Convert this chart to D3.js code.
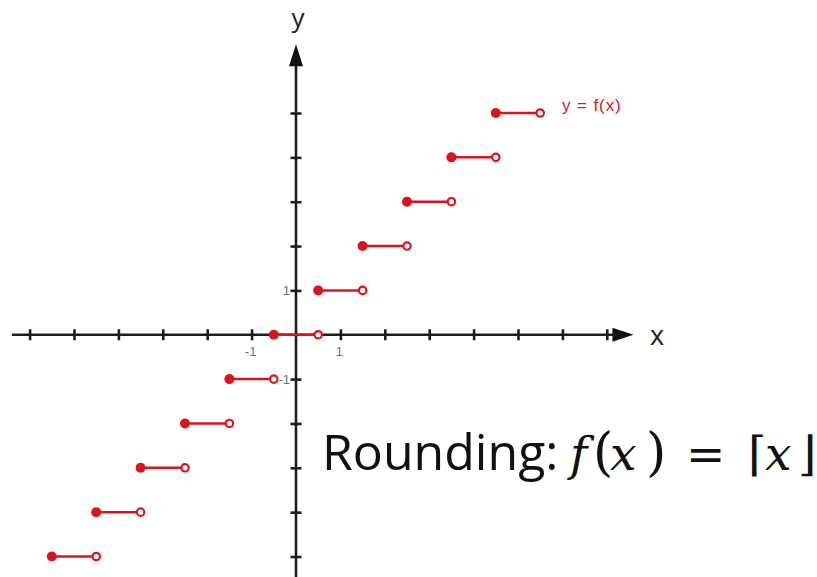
<!DOCTYPE html>
<html>
<head>
<meta charset="utf-8">
<script src="https://cdn.jsdelivr.net/npm/d3@7"></script>
<style>
  body { margin: 0; background: #fff; }
  svg { display: block; }
</style>
</head>
<body>
<div class="chart"></div>
<script>
// step levels of f(x) = round(x); each step runs from level-0.5 (closed) to level+0.5 (open)
var stepLevels = [-5, -4, -3, -2, -1, 0, 1, 2, 3, 4, 5];
var stepStart  = [-5.5, -4.5, -3.5, -2.5, -1.5, -0.5, 0.5, 1.5, 2.5, 3.5, 4.5];
var stepEnd    = [-4.5, -3.5, -2.5, -1.5, -0.5, 0.5, 1.5, 2.5, 3.5, 4.5, 5.5];

var xTicks = [-6, -5, -4, -3, -2, -1, 1, 2, 3, 4, 5, 6, 7];
var yTicks = [-5, -4, -3, -2, -1, 1, 2, 3, 4, 5];
var xTickLabels = [{v: -1, t: "-1"}, {v: 1, t: "1"}];
var yTickLabels = [{v: -1, t: "-1"}, {v: 1, t: "1"}];

var width = 817, height = 577;
var red = "#d9141e";
var axisColor = "#1e1e1e";

var x = d3.scaleLinear().domain([-6, 7]).range([29.6, 606.8]);
var y = d3.scaleLinear().domain([-5, 5]).range([556.5, 113]);

var svg = d3.select(".chart").append("svg")
  .attr("width", width)
  .attr("height", height);

// x axis line + arrow
svg.append("line")
  .attr("x1", x(-6.4)).attr("x2", x(7.3))
  .attr("y1", y(0)).attr("y2", y(0))
  .attr("stroke", axisColor).attr("stroke-width", 2.6);
svg.append("path")
  .attr("d", "M" + x(7.6) + "," + y(0) + " L" + (x(7.6) - 21) + "," + (y(0) - 7) + " L" + (x(7.6) - 21) + "," + (y(0) + 7) + " Z")
  .attr("fill", "#111");

// y axis line + arrow
svg.append("line")
  .attr("x1", x(0)).attr("x2", x(0))
  .attr("y1", height).attr("y2", y(6.2))
  .attr("stroke", axisColor).attr("stroke-width", 2.6);
svg.append("path")
  .attr("d", "M" + x(0) + "," + y(6.55) + " L" + (x(0) - 7) + "," + (y(6.55) + 22) + " L" + (x(0) + 7) + "," + (y(6.55) + 22) + " Z")
  .attr("fill", "#111");

// ticks through d3 axes, centred on the axis lines
svg.append("g")
  .attr("transform", "translate(0," + (y(0) - 5.5) + ")")
  .call(d3.axisBottom(x).tickValues(xTicks).tickSize(11).tickFormat(""));
svg.append("g")
  .attr("transform", "translate(" + (x(0) + 5.5) + ",0)")
  .call(d3.axisLeft(y).tickValues(yTicks).tickSize(11).tickFormat(""));
svg.selectAll(".domain").remove();
svg.selectAll(".tick line").attr("stroke", axisColor).attr("stroke-width", 2.6);

// tick labels
svg.append("g").selectAll("text")
  .data(xTickLabels)
  .enter()
  .append("text")
  .attr("x", d => x(d.v) - 1)
  .attr("y", y(0) + 21)
  .attr("text-anchor", "middle")
  .style("font-family", "Arial, 'Liberation Sans', sans-serif")
  .style("font-size", "13px")
  .attr("fill", "#707070")
  .text(d => d.t);

svg.append("g").selectAll("text")
  .data(yTickLabels)
  .enter()
  .append("text")
  .attr("x", x(0) - 6)
  .attr("y", d => y(d.v) + 5)
  .attr("text-anchor", "end")
  .style("font-family", "Arial, 'Liberation Sans', sans-serif")
  .style("font-size", "13px")
  .attr("fill", "#707070")
  .text(d => d.t);

// axis names
svg.append("text")
  .attr("x", x(0) + 2).attr("y", 27)
  .attr("text-anchor", "middle")
  .style("font-family", "'Open Sans', sans-serif")
  .style("font-size", "26px")
  .attr("fill", "#222")
  .text("y");
svg.append("text")
  .attr("x", 657).attr("y", y(0) + 10)
  .attr("text-anchor", "middle")
  .style("font-family", "'Open Sans', sans-serif")
  .style("font-size", "27px")
  .attr("fill", "#222")
  .text("x");

// steps
var steps = stepLevels.map((v, i) => ({level: v, x0: stepStart[i], x1: stepEnd[i]}));

var stepG = svg.append("g");
stepG.selectAll("line")
  .data(steps)
  .enter()
  .append("line")
  .attr("x1", d => x(d.x0)).attr("x2", d => x(d.x1))
  .attr("y1", d => y(d.level)).attr("y2", d => y(d.level))
  .attr("stroke", red).attr("stroke-width", 2.5);

stepG.selectAll("circle.closed")
  .data(steps)
  .enter()
  .append("circle")
  .attr("class", "closed")
  .attr("cx", d => x(d.x0)).attr("cy", d => y(d.level))
  .attr("r", 5)
  .attr("fill", red);

stepG.selectAll("circle.open")
  .data(steps)
  .enter()
  .append("circle")
  .attr("class", "open")
  .attr("cx", d => x(d.x1)).attr("cy", d => y(d.level))
  .attr("r", 3.7)
  .attr("fill", "white")
  .attr("stroke", red)
  .attr("stroke-width", 2.2);

// function label
svg.append("text")
  .attr("x", 562).attr("y", y(5) - 2)
  .style("font-family", "Arial, 'Liberation Sans', sans-serif")
  .style("font-size", "17px")
  .style("letter-spacing", "0.9px")
  .attr("fill", red)
  .text("y = f(x)");

// title: plain text then math-style pieces placed like the reference
var title = svg.append("text")
  .attr("y", 470)
  .attr("fill", "#111")
  .style("font-size", "50px");
title.append("tspan").attr("x", 322).style("font-family", "'Open Sans', sans-serif").text("Rounding:");

var mathParts = [
  {t: "f", x: 570, it: true, f: "'DejaVu Serif', serif"},
  {t: "(", x: 593, it: false, f: "'DejaVu Serif', serif"},
  {t: "x", x: 610, it: true, f: "'DejaVu Serif', serif"},
  {t: ")", x: 646, it: false, f: "'DejaVu Serif', serif"},
  {t: "=", x: 686, it: false, f: "'DejaVu Sans', sans-serif"},
  {t: "\u2308", x: 748, it: false, f: "'DejaVu Serif', serif"},
  {t: "x", x: 765, it: true, f: "'DejaVu Serif', serif"},
  {t: "\u230B", x: 798, it: false, f: "'DejaVu Serif', serif"}
];
title.selectAll("tspan.m")
  .data(mathParts)
  .enter()
  .append("tspan")
  .attr("class", "m")
  .attr("x", d => d.x)
  .style("font-family", d => d.f)
  .style("font-style", d => d.it ? "italic" : "normal")
  .style("font-size", d => d.t === "(" || d.t === ")" ? "52px" : "47px")
  .text(d => d.t);
</script>
</body>
</html>
